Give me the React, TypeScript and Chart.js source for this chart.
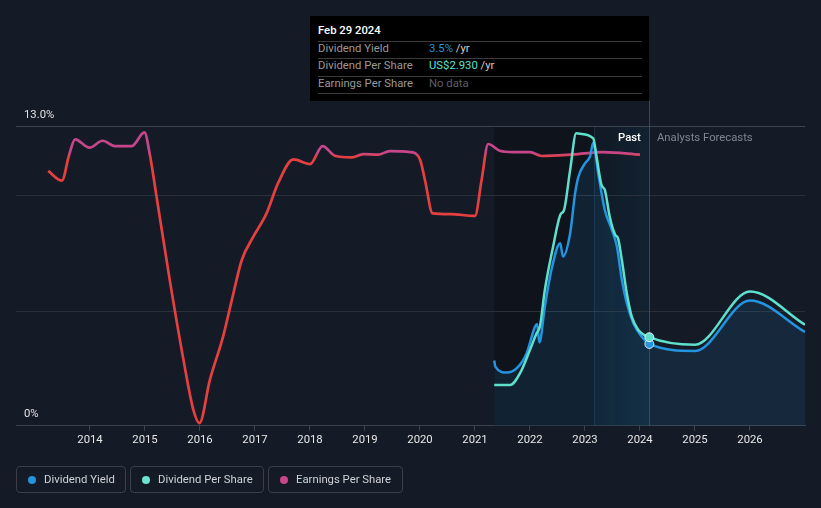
import React, { useEffect, useRef } from "react";
import { Chart, registerables } from "chart.js";

Chart.register(...registerables);

// ---------- data ----------
const yearTicks = [2014, 2015, 2016, 2017, 2018, 2019, 2020, 2021, 2022, 2023, 2024, 2025, 2026];

const yieldYears = [
  2021.35, 2021.37, 2021.58, 2021.76, 2021.94, 2022.09, 2022.13, 2022.17, 2022.27, 2022.39,
  2022.55, 2022.6, 2022.73, 2022.82, 2022.88, 2023.0, 2023.09, 2023.15, 2023.24, 2023.36,
  2023.49, 2023.58, 2023.67, 2023.76, 2023.88, 2024.03, 2024.17,
];
const yieldValues = [
  2.83, 2.57, 2.31, 2.5, 3.15, 4.3, 4.42, 3.61, 5.17, 6.76,
  7.92, 7.34, 8.35, 10.08, 10.8, 11.38, 11.67, 12.27, 10.95, 9.36,
  8.49, 7.77, 6.33, 5.32, 4.45, 3.87, 3.55,
];
const yieldForecastYears = [2025.0, 2026.0, 2027.0];
const yieldForecastValues = [3.25, 5.43, 4.07];

const dpsYears = [
  2021.35, 2021.64, 2021.82, 2022.0, 2022.12, 2022.18, 2022.27, 2022.42, 2022.55, 2022.62,
  2022.73, 2022.84, 2022.91, 2023.15, 2023.21, 2023.3, 2023.36, 2023.45, 2023.55, 2023.6,
  2023.67, 2023.76, 2023.85, 2023.97, 2024.17,
];
const dpsValues = [
  1.35, 1.35, 1.74, 2.51, 3.06, 3.28, 4.49, 5.92, 6.97, 7.14,
  8.46, 9.67, 9.65, 9.5, 8.9, 7.96, 7.8, 6.91, 6.31, 6.2,
  5.48, 4.38, 3.61, 3.17, 2.93,
];
const dpsForecastYears = [2025.0, 2026.0, 2027.0];
const dpsForecastValues = [2.68, 4.44, 3.34];

const epsYears = [
  2013.24, 2013.49, 2013.62, 2013.73, 2013.99, 2014.23, 2014.45, 2014.76, 2014.99, 2015.09,
  2015.21, 2015.45, 2015.7, 2015.88, 2015.99, 2016.18, 2016.42, 2016.58, 2016.76, 2016.97,
  2017.21, 2017.42, 2017.7, 2018.0, 2018.23, 2018.45, 2018.76, 2018.97, 2019.24, 2019.45,
  2019.82, 2020.0, 2020.09, 2020.23, 2020.55, 2021.0, 2021.12, 2021.24, 2021.45, 2021.7,
  2022.0, 2022.21, 2022.79, 2023.33, 2024.0,
];
const epsValues = [
  11.05, 10.63, 11.74, 12.42, 12.06, 12.36, 12.13, 12.13, 12.72, 11.74,
  9.94, 6.33, 2.86, 0.69, 0.12, 1.99, 3.87, 5.46, 7.19, 8.2,
  9.21, 10.52, 11.55, 11.35, 12.13, 11.71, 11.64, 11.78, 11.76, 11.91,
  11.87, 11.55, 10.66, 9.21, 9.18, 9.1, 10.66, 12.22, 11.93, 11.87,
  11.87, 11.7, 11.77, 11.87, 11.76,
];

const nowYear = 2024.17;
const pastBandStart = 2023.17;
const dividendStart = 2021.35;
const gridValues = [5, 10];
const topValue = 13;

const BLUE = "#2394df";
const TEAL = "#5ee0cc";
const PINK = "#c7468b";
const RED = "#e5403f";
const FONT = "Roboto, 'Noto Sans', sans-serif";

function pts(xs: number[], ys: number[]) {
  return xs.map((x, i) => ({ x, y: ys[i] }));
}

const bgPlugin = {
  id: "bgPlugin",
  beforeDatasetsDraw(chart: any) {
    const { ctx, chartArea } = chart;
    const x = chart.scales.x;
    const y = chart.scales.y;
    const xs = x.getPixelForValue(dividendStart);
    const xb = x.getPixelForValue(pastBandStart);
    const xn = x.getPixelForValue(nowYear);
    ctx.save();
    ctx.fillStyle = "rgba(0,0,0,0.28)";
    ctx.fillRect(xs, chartArea.top, xb - xs, chartArea.bottom - chartArea.top);
    const g = ctx.createLinearGradient(xb, 0, xn, 0);
    g.addColorStop(0, "rgba(35,148,223,0.03)");
    g.addColorStop(1, "rgba(35,148,223,0.10)");
    ctx.fillStyle = "rgba(0,0,0,0.2)";
    ctx.fillRect(xb, chartArea.top, xn - xb, chartArea.bottom - chartArea.top);
    ctx.fillStyle = g;
    ctx.fillRect(xb, chartArea.top, xn - xb, chartArea.bottom - chartArea.top);
    ctx.lineWidth = 1;
    gridValues.forEach((v) => {
      const py = Math.round(y.getPixelForValue(v)) + 0.5;
      ctx.strokeStyle = "#2a303a";
      ctx.beginPath();
      ctx.moveTo(chartArea.left, py);
      ctx.lineTo(chartArea.right, py);
      ctx.stroke();
    });
    const pt = Math.round(y.getPixelForValue(topValue)) + 0.5;
    ctx.strokeStyle = "#3f4550";
    ctx.beginPath();
    ctx.moveTo(chartArea.left, pt);
    ctx.lineTo(chartArea.right, pt);
    ctx.stroke();
    ctx.strokeStyle = "rgba(60,90,120,0.35)";
    ctx.beginPath();
    ctx.moveTo(Math.round(xb) + 0.5, chartArea.top);
    ctx.lineTo(Math.round(xb) + 0.5, chartArea.bottom);
    ctx.stroke();
    ctx.strokeStyle = "rgba(70,100,130,0.6)";
    ctx.beginPath();
    ctx.moveTo(Math.round(xn) + 0.5, 101);
    ctx.lineTo(Math.round(xn) + 0.5, chartArea.bottom);
    ctx.stroke();
    ctx.restore();
  },
};

function epsColor(context: any) {
  const chart = context.chart;
  if (!chart.chartArea) return RED;
  const s = chart.scales.yEps;
  const p1 = s.getPixelForValue(11.84);
  const p2 = s.getPixelForValue(11.66);
  const g = chart.ctx.createLinearGradient(0, p1, 0, p2);
  g.addColorStop(0, PINK);
  g.addColorStop(1, RED);
  return g;
}

function nowPointRadius(ctx: any) {
  return ctx.raw && ctx.raw.x === nowYear ? 4.5 : 0;
}

function ChartCanvas() {
  const ref = useRef<HTMLCanvasElement | null>(null);
  useEffect(() => {
    if (!ref.current) return;
    const chart = new Chart(ref.current, {
      type: "line",
      data: {
        datasets: [
          {
            label: "Dividend Per Share",
            data: pts(dpsYears.concat(dpsForecastYears), dpsValues.concat(dpsForecastValues)),
            yAxisID: "yDps",
            borderColor: TEAL,
            borderWidth: 2.5,
            pointRadius: nowPointRadius,
            pointHoverRadius: 0,
            pointBackgroundColor: TEAL,
            pointBorderColor: "rgba(255,255,255,0.8)",
            pointBorderWidth: 1,
            cubicInterpolationMode: "monotone",
            fill: false,
            order: 1,
          },
          {
            label: "Dividend Yield",
            data: pts(yieldYears.concat(yieldForecastYears), yieldValues.concat(yieldForecastValues)),
            yAxisID: "y",
            borderColor: BLUE,
            borderWidth: 2.5,
            pointRadius: nowPointRadius,
            pointHoverRadius: 0,
            pointBackgroundColor: BLUE,
            pointBorderColor: "rgba(255,255,255,0.8)",
            pointBorderWidth: 1,
            cubicInterpolationMode: "monotone",
            fill: "origin",
            backgroundColor: "rgba(35,148,223,0.12)",
            order: 2,
          },
          {
            label: "Earnings Per Share",
            data: pts(epsYears, epsValues),
            yAxisID: "yEps",
            borderColor: epsColor,
            borderWidth: 2.7,
            pointRadius: 0,
            pointHoverRadius: 0,
            cubicInterpolationMode: "monotone",
            fill: false,
            order: 3,
          },
        ],
      },
      options: {
        responsive: false,
        animation: false,
        devicePixelRatio: 1,
        layout: { padding: { left: 16, right: 16, top: 126, bottom: 57.6 } },
        plugins: { legend: { display: false }, tooltip: { enabled: false } },
        events: [],
        scales: {
          x: {
            type: "linear",
            min: 2012.655,
            max: 2027.0,
            afterBuildTicks: (s: any) => {
              s.ticks = yearTicks.map((v) => ({ value: v }));
            },
            ticks: {
              autoSkip: false,
              maxRotation: 0,
              color: "#e8e8e8",
              padding: 3,
              font: { family: FONT, size: 11.3 },
              callback: (v: any) => String(v),
            },
            grid: { drawOnChartArea: false, drawTicks: true, tickLength: 5, color: "#3d434d" },
            border: { display: true, color: "#3d434d", width: 1 },
          },
          y: { type: "linear", min: 0, max: 13, display: false },
          yDps: { type: "linear", min: 0, max: 9.91, display: false },
          yEps: { type: "linear", min: 0, max: 13, display: false },
        },
      } as any,
      plugins: [bgPlugin],
    });
    return () => chart.destroy();
  }, []);
  return (
    <canvas
      ref={ref}
      width={821}
      height={508}
      style={{ position: "absolute", left: 0, top: 0, width: 821, height: 508, display: "block" }}
    />
  );
}

const abs = (left: number, cy: number, extra: React.CSSProperties = {}): React.CSSProperties => ({
  position: "absolute",
  left,
  top: cy - 8,
  height: 16,
  lineHeight: "16px",
  fontSize: 11.3,
  whiteSpace: "nowrap",
  ...extra,
});

function Tooltip() {
  const rows = [
    { label: "Dividend Yield", value: "3.5%", color: BLUE, suffix: " /yr", cy: 49.3 },
    { label: "Dividend Per Share", value: "US$2.930", color: TEAL, suffix: " /yr", cy: 66 },
    { label: "Earnings Per Share", value: "No data", color: "#5c5f66", suffix: "", cy: 84 },
  ];
  const seps = [41.5, 58.5, 76.5, 93];
  return (
    <>
      <div style={{ position: "absolute", left: 310, top: 16, width: 339, height: 85, background: "#000" }} />
      <div style={abs(318, 31.3, { color: "#fff", fontWeight: 500 })}>Feb 29 2024</div>
      {seps.map((y, i) => (
        <div key={i} style={{ position: "absolute", left: 318, top: Math.floor(y), width: 324, height: 1, background: "#3a3a3a" }} />
      ))}
      {rows.map((r, i) => (
        <React.Fragment key={i}>
          <div style={abs(318, r.cy, { color: "#9a9a9a" })}>{r.label}</div>
          <div style={abs(429, r.cy, { color: "#cfcfcf" })}>
            <span style={{ color: r.color }}>{r.value}</span>
            {r.suffix}
          </div>
        </React.Fragment>
      ))}
    </>
  );
}

function Legend() {
  const items = [
    { label: "Dividend Yield", color: BLUE, left: 16, width: 110 },
    { label: "Dividend Per Share", color: "#6de3d3", left: 130, width: 134 },
    { label: "Earnings Per Share", color: PINK, left: 268, width: 135 },
  ];
  return (
    <>
      {items.map((it, i) => (
        <div
          key={i}
          style={{
            position: "absolute",
            left: it.left,
            top: 466,
            width: it.width,
            height: 27,
            boxSizing: "border-box",
            border: "1px solid #3a404a",
            borderRadius: 4,
          }}
        >
          <div
            style={{
              position: "absolute",
              left: 11,
              top: 8.5,
              width: 8,
              height: 8,
              borderRadius: 4,
              background: it.color,
            }}
          />
          <div style={{ position: "absolute", left: 27, top: 5, lineHeight: "16px", fontSize: 11.3, color: "#cfd2d6", whiteSpace: "nowrap" }}>
            {it.label}
          </div>
        </div>
      ))}
    </>
  );
}

export default function App() {
  return (
    <div
      style={{
        position: "fixed",
        left: 0,
        top: 0,
        width: 821,
        height: 508,
        background: "#151b26",
        fontFamily: FONT,
        overflow: "hidden",
      }}
    >
      <ChartCanvas />
      <div style={abs(24, 114.5, { color: "#e0e0e0" })}>13.0%</div>
      <div style={abs(24, 414, { color: "#e0e0e0" })}>0%</div>
      <div style={abs(618, 138.3, { color: "#ffffff", fontWeight: 500 })}>Past</div>
      <div style={abs(657, 138.3, { color: "#80868f" })}>Analysts Forecasts</div>
      <Tooltip />
      <Legend />
    </div>
  );
}
